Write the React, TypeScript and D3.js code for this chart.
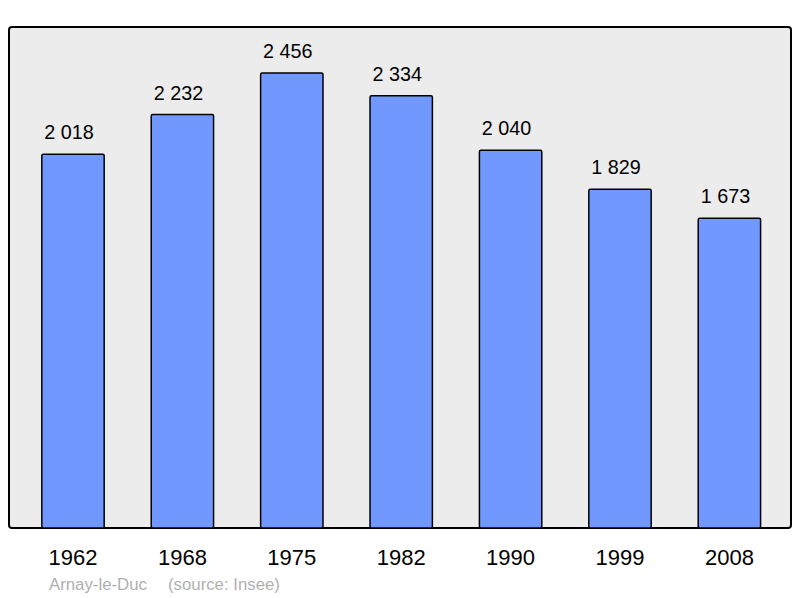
import React, { useEffect, useRef } from 'react';
import * as d3 from 'd3';

const years = ['1962', '1968', '1975', '1982', '1990', '1999', '2008'];
const population = [2018, 2232, 2456, 2334, 2040, 1829, 1673];
const town = 'Arnay-le-Duc';
const source = '(source: Insee)';

const fmt = (v: number) => d3.format(',')(v).replace(',', ' ');

const App = () => {
  const svgRef = useRef<SVGSVGElement>(null);

  useEffect(() => {
    const width = 800;
    const height = 598;
    const panel = { left: 9, top: 27, right: 791, bottom: 528 };

    const svg = d3.select(svgRef.current)
      .attr('width', width)
      .attr('height', height)
      .style('font-family', '"Liberation Sans", Arial, sans-serif');

    svg.selectAll('*').remove();

    svg.append('rect')
      .attr('x', panel.left)
      .attr('y', panel.top)
      .attr('width', panel.right - panel.left)
      .attr('height', panel.bottom - panel.top)
      .attr('rx', 3)
      .attr('fill', '#ececec')
      .attr('stroke', '#000')
      .attr('stroke-width', 2);

    const x = d3.scaleBand()
      .domain(years)
      .range([18.3, 784.1])
      .paddingInner(0.43)
      .paddingOuter(0.215);

    const y = d3.scaleLinear()
      .domain([0, 2705])
      .range([panel.bottom, panel.top]);

    const data = years.map((yr, i) => ({ yr, v: population[i] }));

    svg.selectAll('.bar')
      .data(data)
      .enter()
      .append('rect')
      .attr('class', 'bar')
      .attr('x', d => x(d.yr)!)
      .attr('y', d => y(d.v))
      .attr('width', x.bandwidth())
      .attr('height', d => panel.bottom - y(d.v))
      .attr('rx', 1.5)
      .attr('fill', '#7098ff')
      .attr('stroke', '#000')
      .attr('stroke-width', 1.5);

    svg.selectAll('.val')
      .data(data)
      .enter()
      .append('text')
      .attr('class', 'val')
      .attr('x', d => x(d.yr)! + x.bandwidth() / 2 - 4)
      .attr('y', d => y(d.v) - 15)
      .attr('text-anchor', 'middle')
      .attr('font-size', 19.8)
      .attr('fill', '#000')
      .text(d => fmt(d.v));

    svg.selectAll('.yr')
      .data(years)
      .enter()
      .append('text')
      .attr('class', 'yr')
      .attr('x', d => x(d)! + x.bandwidth() / 2)
      .attr('y', 565)
      .attr('text-anchor', 'middle')
      .attr('font-size', 22)
      .attr('fill', '#000')
      .text(d => d);

    svg.append('text')
      .attr('x', 49)
      .attr('y', 590)
      .attr('font-size', 16.8)
      .attr('fill', '#b0b0b0')
      .text(town);

    svg.append('text')
      .attr('x', 168)
      .attr('y', 590)
      .attr('font-size', 16.8)
      .attr('fill', '#b0b0b0')
      .text(source);
  }, []);

  return (
    <svg ref={svgRef} style={{ position: 'absolute', left: 0, top: 0 }}></svg>
  );
};

export default App;
